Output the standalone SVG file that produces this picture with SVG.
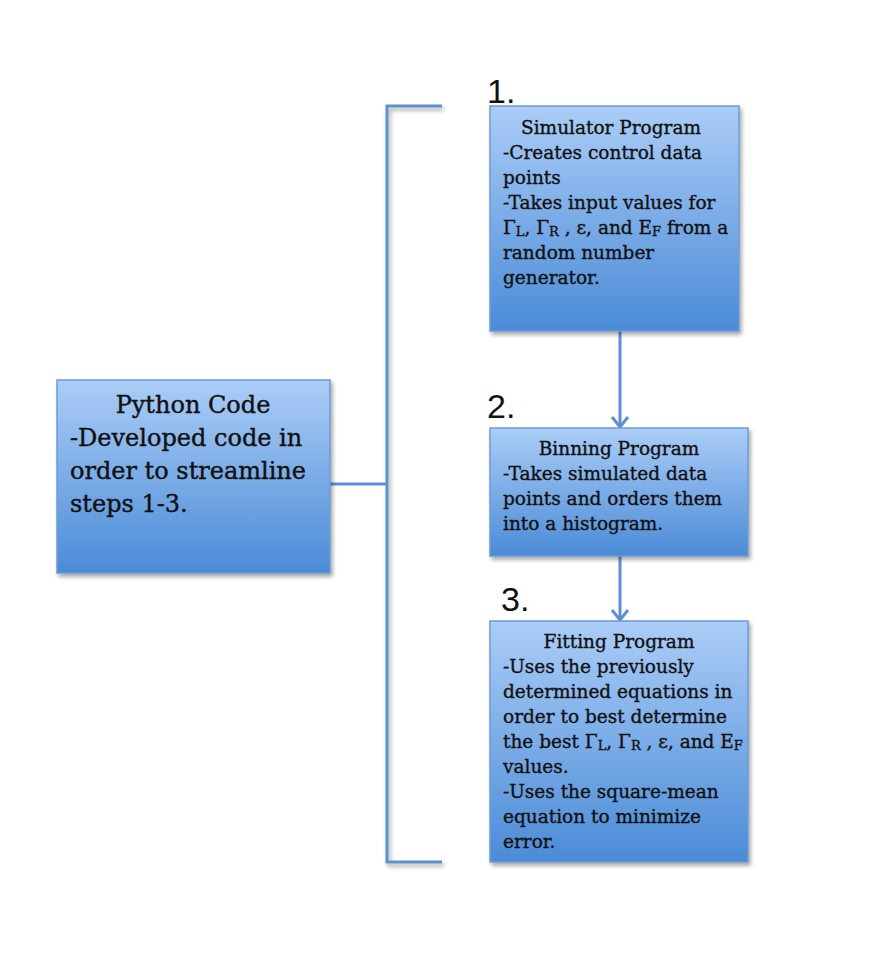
<svg xmlns="http://www.w3.org/2000/svg" width="874" height="960" viewBox="0 0 874 960">
<defs>
<linearGradient id="g" x1="0" y1="0" x2="0" y2="1">
<stop offset="0" stop-color="#abcdf7"/>
<stop offset="1" stop-color="#4b8bd7"/>
</linearGradient>
<filter id="sh" x="-10%" y="-10%" width="125%" height="130%">
<feDropShadow dx="2" dy="3" stdDeviation="2" flood-color="#000" flood-opacity="0.35"/>
</filter>
<marker id="ah" viewBox="0 0 20 14" refX="10" refY="12" markerWidth="20" markerHeight="14" markerUnits="userSpaceOnUse" orient="0">
<path d="M2,2 L10,12 L18,2" fill="none" stroke="#5f8fcf" stroke-width="3"/>
</marker>
</defs>
<style>
.box{fill:url(#g);stroke:#6d9bd6;stroke-width:1.5;filter:url(#sh)}
.t{font-family:"DejaVu Serif","Liberation Serif",serif;font-size:18.5px;fill:#111;stroke:#111;stroke-width:0.35}
.big{font-family:"DejaVu Serif","Liberation Serif",serif;font-size:24px;fill:#111;stroke:#111;stroke-width:0.4}
.num{font-family:"Liberation Sans",Arial,sans-serif;font-size:34px;fill:#111}
.c{fill:none;stroke:#5f8fcf;stroke-width:3}
.sub{font-size:13px}
</style>
<rect width="874" height="960" fill="#fff"/>
<g id="connectors">
<path class="c" d="M442,106 H387 V862 H442" filter="url(#sh)"/>
<path class="c" d="M330,484 H387"/>
<path class="c" d="M620,318 V427" marker-end="url(#ah)"/>
<path class="c" d="M620,556 V620" marker-end="url(#ah)"/>
</g>
<g id="python">
<rect class="box" x="57" y="380" width="273" height="193"/>
<text class="big" x="193" y="413" text-anchor="middle">Python Code</text>
<text class="big" x="70" y="446">-Developed code in</text>
<text class="big" x="70" y="479">order to streamline</text>
<text class="big" x="70" y="512">steps 1-3.</text>
</g>
<g id="simulator">
<text class="num" x="487" y="103">1.</text>
<rect class="box" x="490" y="106" width="249" height="225"/>
<text class="t" x="611" y="134" text-anchor="middle">Simulator Program</text>
<text class="t" x="503" y="159">-Creates control data</text>
<text class="t" x="503" y="184">points</text>
<text class="t" x="503" y="209">-Takes input values for</text>
<text class="t" x="503" y="234">Γ<tspan class="sub" dy="2">L</tspan><tspan dy="-2">, Γ</tspan><tspan class="sub" dy="2">R</tspan><tspan dy="-2"> , ε, and E</tspan><tspan class="sub" dy="2">F</tspan><tspan dy="-2"> from a</tspan></text>
<text class="t" x="503" y="259">random number</text>
<text class="t" x="503" y="284">generator.</text>
</g>
<g id="binning">
<text class="num" x="487" y="418">2.</text>
<rect class="box" x="490" y="428" width="258" height="128"/>
<text class="t" x="619" y="455" text-anchor="middle">Binning Program</text>
<text class="t" x="503" y="480">-Takes simulated data</text>
<text class="t" x="503" y="505">points and orders them</text>
<text class="t" x="503" y="530">into a histogram.</text>
</g>
<g id="fitting">
<text class="num" x="501" y="611">3.</text>
<rect class="box" x="490" y="621" width="258" height="241"/>
<text class="t" x="619" y="648" text-anchor="middle">Fitting Program</text>
<text class="t" x="503" y="673">-Uses the previously</text>
<text class="t" x="503" y="698">determined equations in</text>
<text class="t" x="503" y="723">order to best determine</text>
<text class="t" x="503" y="748">the best Γ<tspan class="sub" dy="2">L</tspan><tspan dy="-2">, Γ</tspan><tspan class="sub" dy="2">R</tspan><tspan dy="-2"> , ε, and E</tspan><tspan class="sub" dy="2">F</tspan></text>
<text class="t" x="503" y="773">values.</text>
<text class="t" x="503" y="798">-Uses the square-mean</text>
<text class="t" x="503" y="823">equation to minimize</text>
<text class="t" x="503" y="848">error.</text>
</g>
</svg>
